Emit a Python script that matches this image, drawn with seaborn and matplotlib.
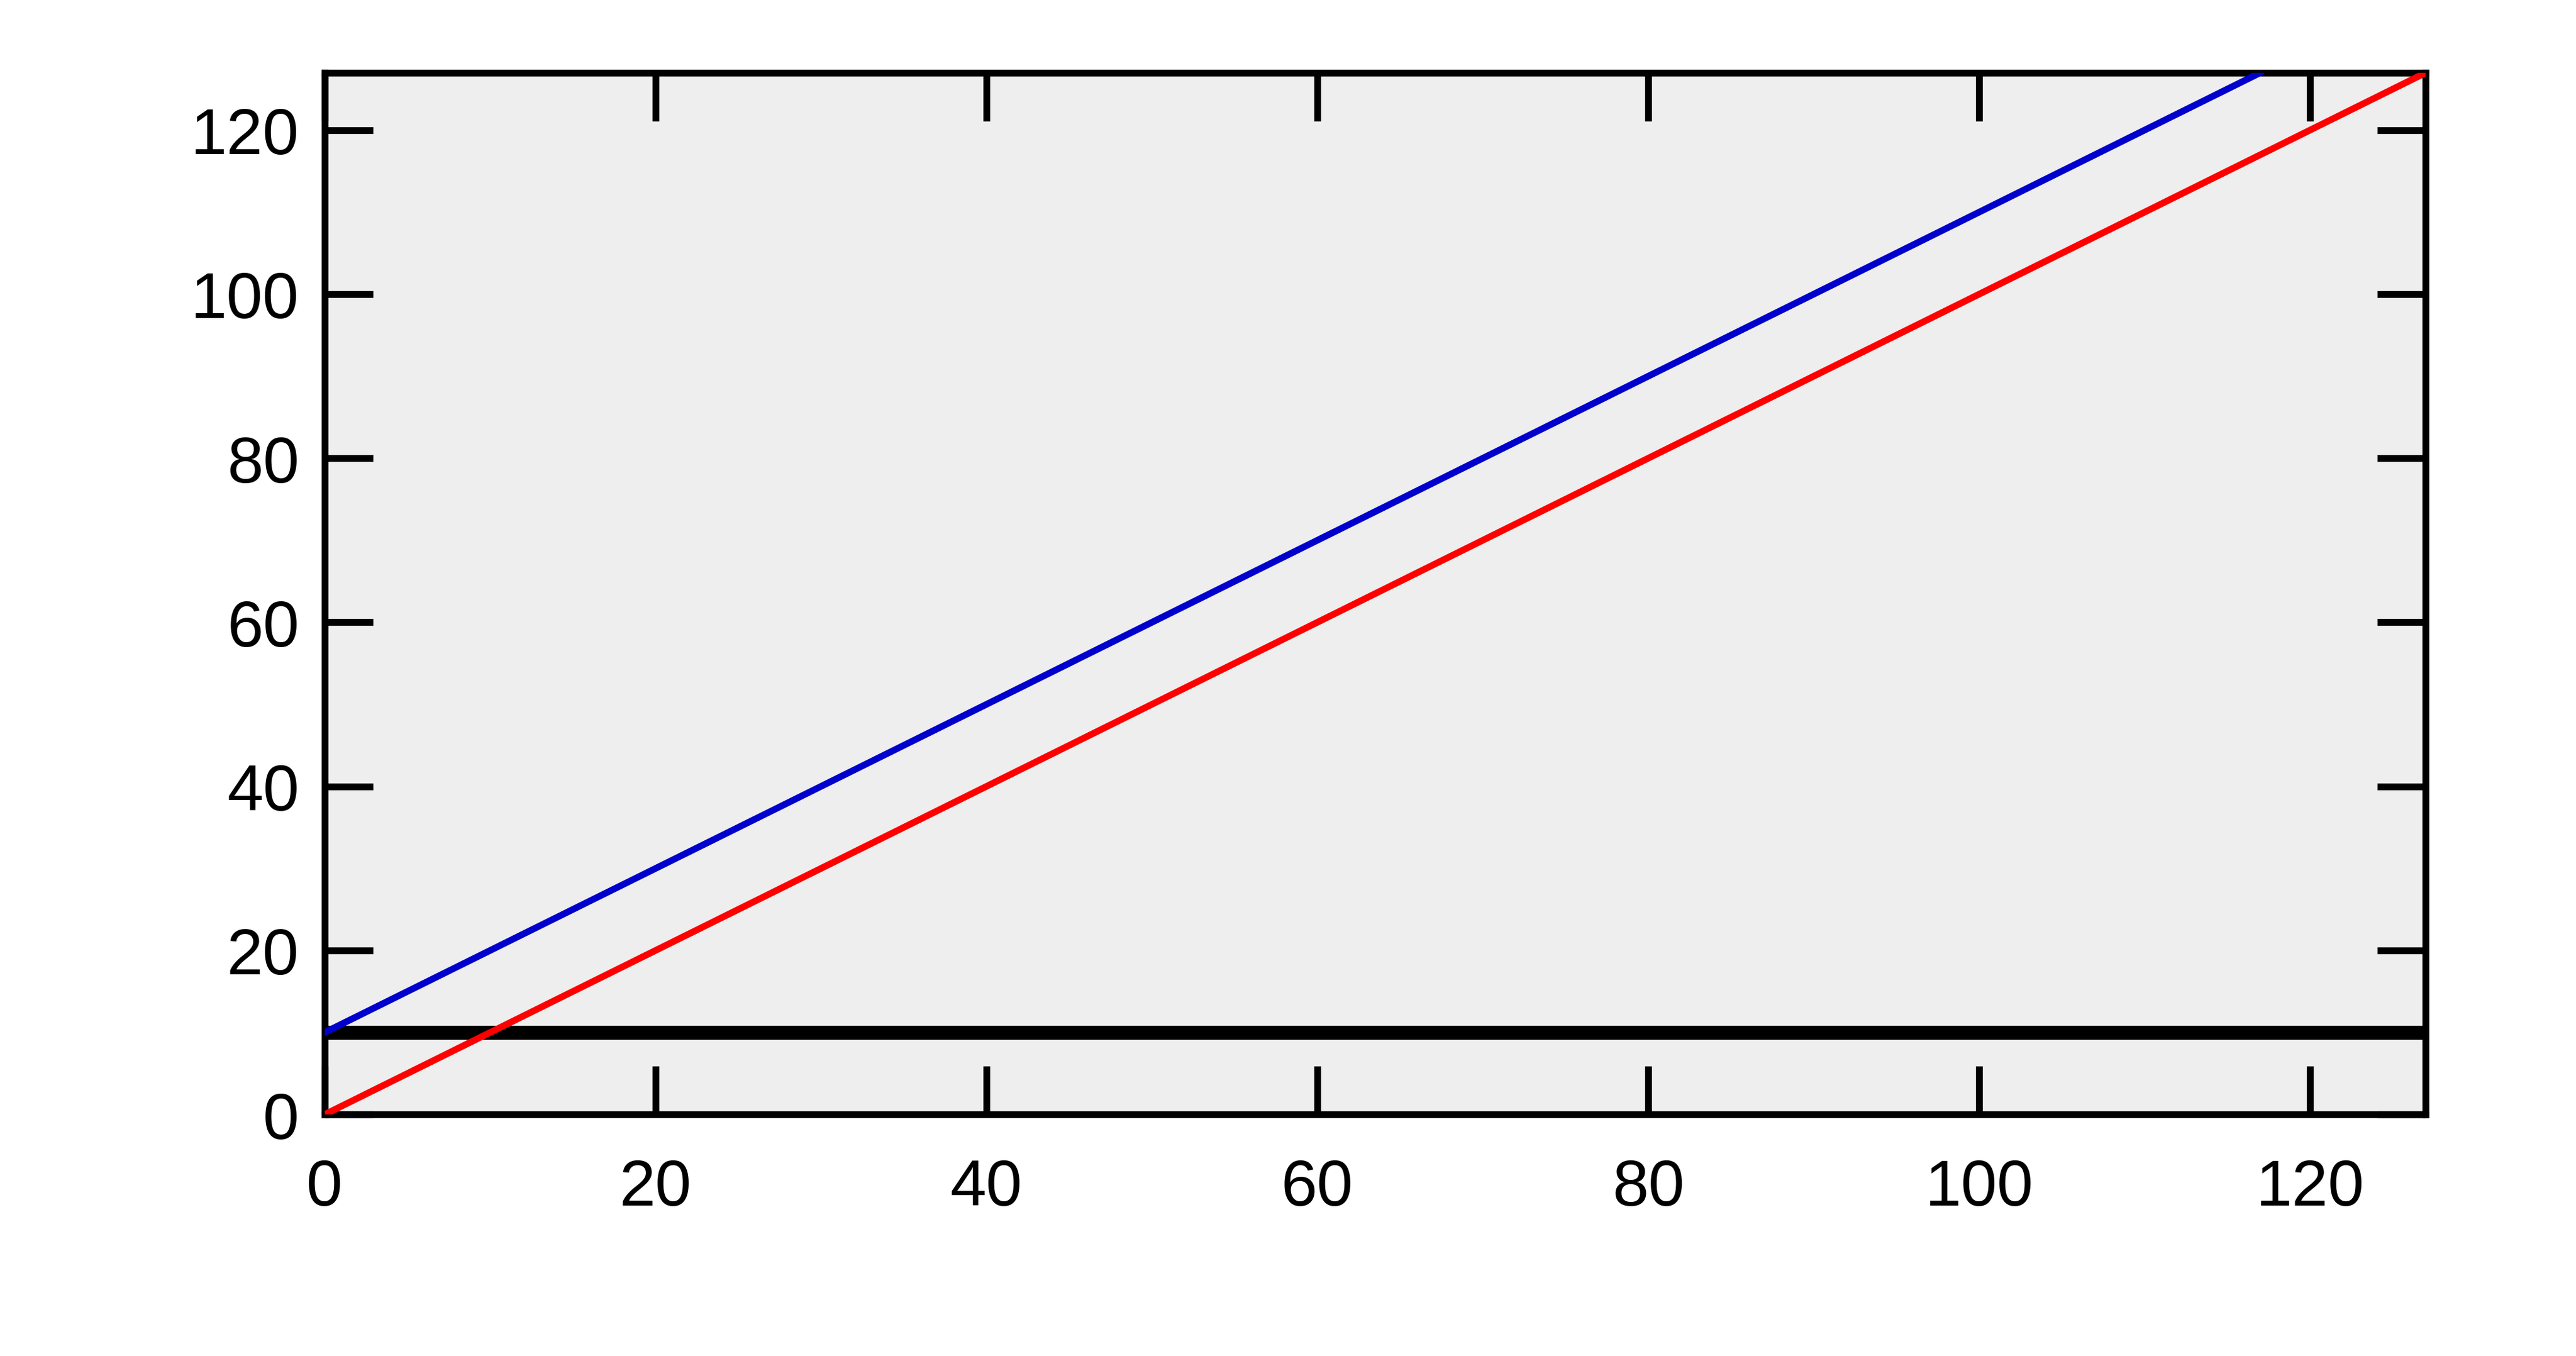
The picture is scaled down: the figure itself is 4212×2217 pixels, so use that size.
import pandas as pd
import matplotlib
matplotlib.use('Agg')
import matplotlib.pyplot as plt
import seaborn as sns

# Data
red_x = [0, 127]
red_y = [0, 127]
blue_x = [0, 117]
blue_y = [10, 127]
base_x = [0, 127]
base_y = [10, 10]
ticks = [0, 20, 40, 60, 80, 100, 120]

sns.set_style('ticks')
plt.rcParams['font.family'] = ['Liberation Sans', 'DejaVu Sans']

fig = plt.figure(figsize=(14.043, 7.393), dpi=300)
ax = fig.add_axes([0.126, 0.178, 0.8155, 0.768])
ax.set_facecolor('#eeeeee')

base = pd.DataFrame({'x': base_x, 'y': base_y})
red = pd.DataFrame({'x': red_x, 'y': red_y})
blue = pd.DataFrame({'x': blue_x, 'y': blue_y})

sns.lineplot(data=base, x='x', y='y', ax=ax, color='black', linewidth=5.5, zorder=2)
sns.lineplot(data=red, x='x', y='y', ax=ax, color='#ff0000', linewidth=2.6, zorder=3)
sns.lineplot(data=blue, x='x', y='y', ax=ax, color='#0000cc', linewidth=2.6, zorder=3)

ax.set_xlim(0, 127)
ax.set_ylim(0, 127)
ax.set_xticks(ticks)
ax.set_yticks(ticks)
ax.set_xlabel('')
ax.set_ylabel('')

for s in ax.spines.values():
    s.set_visible(True)
    s.set_linewidth(2.7)
    s.set_color('black')

ax.tick_params(axis='both', which='major', direction='in', length=19, width=2.7,
               top=True, right=True, labelsize=25.5, colors='black')
ax.tick_params(axis='x', pad=17)
ax.tick_params(axis='y', pad=10)

fig.savefig('out.png', dpi=300, facecolor='white')
